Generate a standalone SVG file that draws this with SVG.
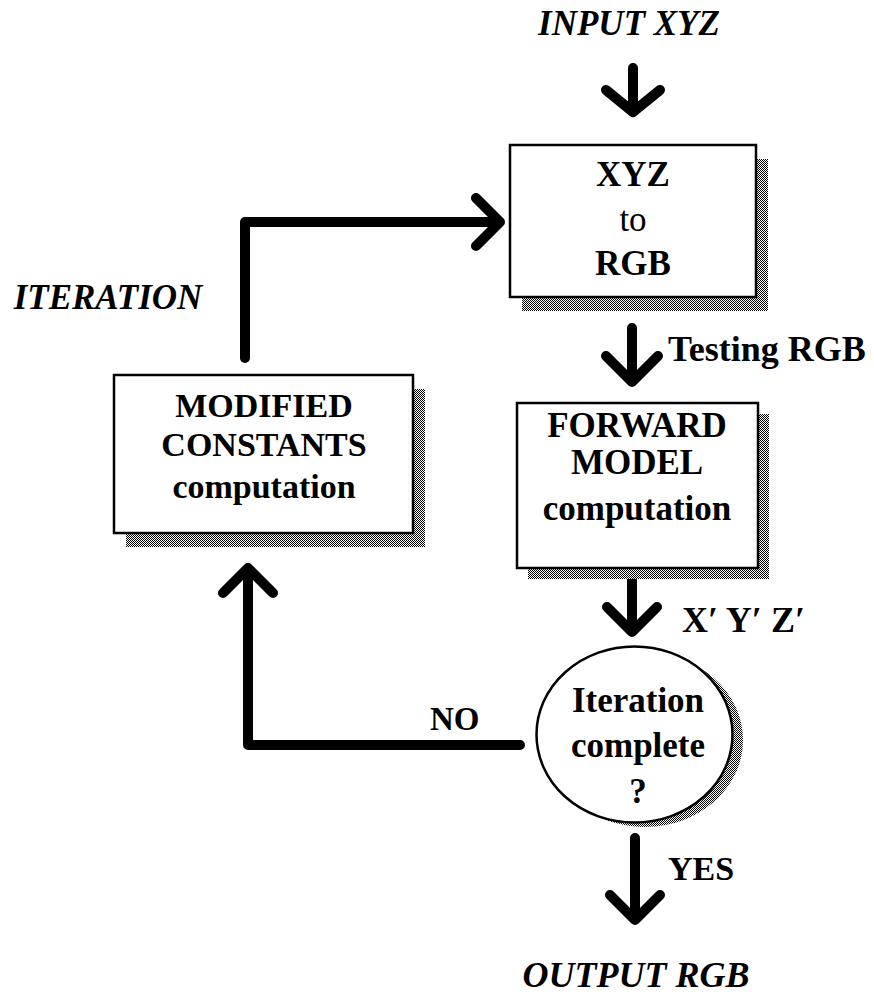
<svg xmlns="http://www.w3.org/2000/svg" width="874" height="995" viewBox="0 0 874 995">
  <defs>
    <pattern id="halftone" width="2" height="2" patternUnits="userSpaceOnUse">
      <rect width="2" height="2" fill="#ffffff"/>
      <rect width="1" height="1" fill="#000000"/>
      <rect x="1" y="1" width="1" height="1" fill="#000000"/>
    </pattern>
  </defs>
  <style>
    .box { fill: #ffffff; stroke: #000000; stroke-width: 2.5; }
    .shadow { fill: url(#halftone); stroke: none; }
    .conn { fill: none; stroke: #000000; stroke-width: 10; stroke-linecap: round; stroke-linejoin: round; }
    .t { font-family: "Liberation Serif", "Times New Roman", serif; fill: #000000; }
    .b { font-weight: bold; }
    .bi { font-weight: bold; font-style: italic; }
    .c { text-anchor: middle; }
  </style>
  <rect width="874" height="995" fill="#ffffff"/>

  <g id="labels">
    <text class="t bi c" x="629" y="35" font-size="35">INPUT XYZ</text>
    <text class="t bi c" x="108" y="309" font-size="35">ITERATION</text>
    <text class="t bi c" x="636" y="987" font-size="36">OUTPUT RGB</text>
    <text class="t b" x="668" y="361" font-size="36">Testing RGB</text>
    <text class="t b" x="682" y="632" font-size="36">X′ Y′ Z′</text>
    <text class="t b" x="430" y="730" font-size="33">NO</text>
    <text class="t b" x="668" y="880" font-size="34">YES</text>
  </g>

  <g id="connectors">
    <path class="conn" d="M633 68 V112 M606 90 L633 112 L660 90"/>
    <path class="conn" d="M632 328 V382 M606 356 L632 382 L658 356"/>
    <path class="conn" d="M632 580 V632 M607 607 L632 632 L657 607"/>
    <path class="conn" d="M635 838 V920 M610 895 L635 920 L660 895"/>
    <path class="conn" d="M520 745 H248 V568 M223 593 L248 568 L273 593"/>
    <path class="conn" d="M245 358 V222 H500 M476 198 L500 222 L476 246"/>
  </g>

  <g id="node-xyz-to-rgb">
    <rect class="shadow" x="522" y="159" width="246" height="152"/>
    <rect class="box" x="510" y="145" width="246" height="152"/>
    <text class="t b c" x="633" y="186" font-size="35">XYZ</text>
    <text class="t c" x="633" y="231" font-size="35">to</text>
    <text class="t b c" x="633" y="275" font-size="35">RGB</text>
  </g>

  <g id="node-modified-constants">
    <rect class="shadow" x="126" y="389" width="299" height="158"/>
    <rect class="box" x="114" y="375" width="299" height="158"/>
    <text class="t b c" x="264" y="417" font-size="34">MODIFIED</text>
    <text class="t b c" x="264" y="456" font-size="34">CONSTANTS</text>
    <text class="t b c" x="264" y="498" font-size="34">computation</text>
  </g>

  <g id="node-forward-model">
    <rect class="shadow" x="528" y="414" width="241" height="165"/>
    <rect class="box" x="517" y="403" width="241" height="165"/>
    <text class="t b c" x="637" y="437" font-size="35">FORWARD</text>
    <text class="t b c" x="637" y="474" font-size="35">MODEL</text>
    <text class="t b c" x="637" y="520" font-size="35">computation</text>
  </g>

  <g id="node-iteration-complete">
    <ellipse class="shadow" cx="645" cy="740" rx="98" ry="87"/>
    <ellipse class="box" cx="634.5" cy="734.5" rx="98" ry="88"/>
    <text class="t b c" x="638" y="712" font-size="35">Iteration</text>
    <text class="t b c" x="638" y="757" font-size="35">complete</text>
    <text class="t b c" x="638" y="803" font-size="35">?</text>
  </g>
</svg>
